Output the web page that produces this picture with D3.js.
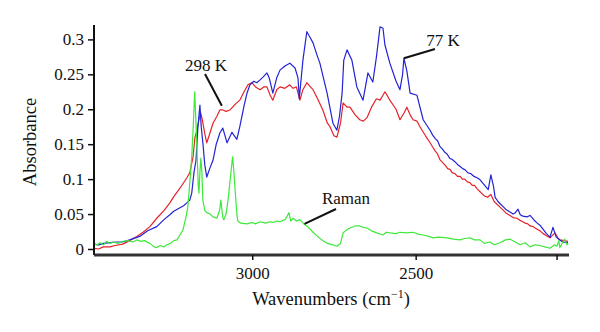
<!DOCTYPE html>
<html><head><meta charset="utf-8">
<script src="https://cdn.jsdelivr.net/npm/d3@7"></script>
<style>
html,body{margin:0;padding:0;background:#fff;}
svg{display:block;}
text{font-family:"Liberation Serif","Times New Roman",serif;fill:#111;}
</style></head>
<body><svg id="c" width="600" height="332"></svg>
<script>
// ---- data: [wavenumber (cm-1), absorbance] ----
const k298 = [[3484,0.001],[3470,0.000],[3455,0.003],[3435,0.003],[3420,0.005],[3396,0.007],[3375,0.012],[3353,0.018],[3334,0.024],[3313,0.032],[3292,0.044],[3270,0.055],[3252,0.066],[3240,0.075],[3221,0.087],[3200,0.102],[3191,0.109],[3181,0.132],[3175,0.160],[3169,0.170],[3163,0.185],[3158,0.195],[3154,0.188],[3145,0.165],[3139,0.152],[3130,0.165],[3120,0.180],[3108,0.190],[3099,0.199],[3090,0.199],[3080,0.197],[3068,0.199],[3050,0.208],[3038,0.213],[3025,0.225],[3013,0.235],[3001,0.238],[2990,0.232],[2976,0.228],[2965,0.232],[2955,0.232],[2945,0.220],[2937,0.213],[2925,0.228],[2915,0.232],[2900,0.230],[2885,0.235],[2875,0.230],[2865,0.232],[2854,0.213],[2845,0.228],[2833,0.238],[2822,0.232],[2814,0.228],[2800,0.215],[2784,0.199],[2770,0.180],[2762,0.175],[2750,0.162],[2741,0.160],[2730,0.180],[2722,0.209],[2710,0.203],[2701,0.203],[2685,0.192],[2671,0.185],[2660,0.183],[2649,0.188],[2635,0.203],[2620,0.215],[2609,0.213],[2600,0.220],[2594,0.225],[2585,0.218],[2579,0.213],[2560,0.200],[2548,0.185],[2535,0.195],[2527,0.203],[2517,0.192],[2508,0.185],[2496,0.183],[2487,0.175],[2470,0.162],[2456,0.152],[2448,0.146],[2440,0.140],[2433,0.136],[2426,0.128],[2418,0.124],[2410,0.120],[2402,0.115],[2395,0.114],[2388,0.109],[2380,0.108],[2372,0.104],[2364,0.104],[2357,0.100],[2350,0.100],[2342,0.096],[2334,0.095],[2327,0.091],[2320,0.091],[2312,0.086],[2303,0.082],[2290,0.076],[2280,0.074],[2270,0.078],[2260,0.068],[2242,0.060],[2233,0.056],[2225,0.052],[2215,0.049],[2202,0.045],[2190,0.044],[2181,0.041],[2172,0.039],[2165,0.037],[2157,0.036],[2150,0.033],[2140,0.032],[2135,0.030],[2127,0.028],[2120,0.026],[2110,0.022],[2100,0.019],[2089,0.016],[2074,0.023],[2065,0.016],[2059,0.013],[2045,0.012],[2034,0.011]];

const k77 = [[3484,0.007],[3470,0.006],[3455,0.008],[3435,0.009],[3415,0.010],[3396,0.010],[3375,0.013],[3344,0.018],[3320,0.026],[3292,0.032],[3270,0.042],[3252,0.049],[3240,0.054],[3221,0.059],[3210,0.062],[3200,0.066],[3191,0.070],[3185,0.080],[3178,0.110],[3172,0.127],[3166,0.175],[3160,0.206],[3156,0.175],[3151,0.152],[3145,0.120],[3139,0.103],[3130,0.115],[3120,0.127],[3110,0.150],[3099,0.166],[3090,0.173],[3077,0.152],[3062,0.167],[3047,0.157],[3038,0.175],[3025,0.205],[3016,0.223],[3007,0.235],[2995,0.240],[2986,0.238],[2976,0.242],[2967,0.246],[2955,0.252],[2948,0.245],[2937,0.223],[2925,0.245],[2915,0.256],[2900,0.262],[2885,0.266],[2869,0.259],[2860,0.245],[2856,0.215],[2845,0.270],[2833,0.311],[2822,0.302],[2814,0.295],[2800,0.275],[2793,0.266],[2771,0.223],[2753,0.180],[2741,0.170],[2733,0.190],[2725,0.223],[2720,0.270],[2710,0.285],[2695,0.270],[2680,0.232],[2661,0.213],[2646,0.252],[2631,0.239],[2620,0.275],[2609,0.318],[2600,0.316],[2594,0.292],[2579,0.266],[2560,0.240],[2548,0.228],[2540,0.250],[2536,0.273],[2527,0.255],[2517,0.223],[2496,0.220],[2477,0.185],[2456,0.170],[2448,0.163],[2440,0.158],[2433,0.155],[2426,0.147],[2418,0.143],[2410,0.138],[2404,0.136],[2396,0.130],[2388,0.128],[2380,0.125],[2372,0.121],[2364,0.118],[2356,0.115],[2348,0.113],[2340,0.109],[2332,0.108],[2322,0.104],[2312,0.102],[2303,0.099],[2285,0.089],[2278,0.085],[2270,0.106],[2262,0.090],[2257,0.074],[2248,0.068],[2240,0.064],[2233,0.061],[2225,0.057],[2215,0.054],[2202,0.050],[2195,0.052],[2187,0.057],[2180,0.049],[2172,0.047],[2160,0.046],[2150,0.048],[2144,0.045],[2135,0.040],[2128,0.037],[2120,0.034],[2110,0.028],[2100,0.022],[2089,0.017],[2080,0.031],[2070,0.017],[2059,0.013],[2050,0.010],[2034,0.009]];

const raman = [[3484,0.007],[3475,0.006],[3465,0.009],[3455,0.006],[3445,0.011],[3435,0.008],[3425,0.010],[3410,0.008],[3396,0.011],[3380,0.012],[3365,0.010],[3353,0.013],[3340,0.011],[3330,0.012],[3313,0.008],[3300,0.003],[3292,0.002],[3282,0.005],[3270,0.003],[3261,0.006],[3250,0.008],[3240,0.012],[3230,0.013],[3221,0.020],[3212,0.027],[3203,0.045],[3197,0.060],[3190,0.100],[3185,0.132],[3180,0.180],[3176,0.225],[3172,0.180],[3169,0.143],[3165,0.090],[3163,0.080],[3160,0.110],[3157,0.130],[3154,0.110],[3151,0.070],[3145,0.055],[3139,0.052],[3129,0.050],[3120,0.046],[3108,0.044],[3100,0.055],[3096,0.070],[3090,0.045],[3087,0.042],[3080,0.050],[3074,0.070],[3065,0.110],[3060,0.132],[3056,0.110],[3053,0.089],[3047,0.050],[3044,0.040],[3035,0.037],[3016,0.036],[3000,0.038],[2990,0.036],[2976,0.039],[2960,0.037],[2946,0.039],[2937,0.038],[2925,0.040],[2915,0.039],[2900,0.042],[2894,0.046],[2888,0.052],[2882,0.040],[2875,0.044],[2865,0.040],[2854,0.042],[2840,0.035],[2830,0.032],[2814,0.024],[2800,0.018],[2784,0.012],[2770,0.008],[2753,0.006],[2741,0.004],[2730,0.008],[2722,0.023],[2710,0.028],[2701,0.030],[2685,0.033],[2671,0.033],[2660,0.031],[2649,0.030],[2635,0.026],[2619,0.023],[2600,0.020],[2590,0.024],[2579,0.023],[2560,0.022],[2548,0.024],[2530,0.023],[2508,0.024],[2490,0.021],[2477,0.020],[2460,0.018],[2447,0.016],[2430,0.017],[2404,0.016],[2385,0.014],[2364,0.013],[2350,0.015],[2334,0.016],[2320,0.013],[2303,0.013],[2290,0.008],[2273,0.010],[2260,0.006],[2242,0.009],[2225,0.013],[2211,0.014],[2195,0.010],[2181,0.006],[2165,0.009],[2150,0.003],[2135,0.006],[2120,0.005],[2105,0.003],[2089,0.001],[2075,0.006],[2068,0.004],[2062,0.012],[2059,0.002],[2050,0.010],[2044,0.014],[2037,0.006],[2034,0.008]];

const xTicks = [3000, 2500, 2069];
const xTickLabels = ["3000", "2500", ""];
const yTicks = [0, 0.05, 0.1, 0.15, 0.2, 0.25, 0.3];
const yTickLabels = ["0", "0.05", "0.1", "0.15", "0.2", "0.25", "0.3"];
const seriesNames = ["298 K", "77 K", "Raman"];
const xDomain = [3484, 2034];
const yDomain = [-0.0086, 0.3206];

// ---- drawing ----
const svg = d3.select("#c");
const x = d3.scaleLinear().domain(xDomain).range([94, 568]);
const y = d3.scaleLinear().domain(yDomain).range([255, 25]);

const line = d3.line().x(d => x(d[0])).y(d => y(d[1]));
const series = [
  {data: k298, color: "#e8222a"},
  {data: k77, color: "#2222d6"},
  {data: raman, color: "#3ee83a"}
];
svg.append("g").selectAll("path").data(series).join("path")
  .attr("d", d => line(d.data))
  .attr("fill", "none")
  .attr("stroke", d => d.color)
  .attr("stroke-width", 1.2)
  .attr("stroke-linejoin", "round");

// y axis
const yAxis = d3.axisLeft(y).tickValues(yTicks)
  .tickFormat((d, i) => yTickLabels[i]).tickSize(6).tickPadding(4);
const gy = svg.append("g").attr("transform", "translate(94,0)").call(yAxis);
gy.select(".domain").attr("d", "M0,25V255").attr("stroke", "#111").attr("stroke-width", 2);
gy.selectAll(".tick line").attr("stroke", "#111").attr("stroke-width", 1.5);
gy.selectAll(".tick text").attr("font-size", 17).attr("font-family", "Liberation Serif").attr("fill", "#111");

// x axis
const xAxis = d3.axisBottom(x).tickValues(xTicks)
  .tickFormat((d, i) => xTickLabels[i]).tickSize(5).tickPadding(7);
const gx = svg.append("g").attr("transform", "translate(0,255)").call(xAxis);
gx.select(".domain").attr("d", "M94,0H569").attr("stroke", "#333").attr("stroke-width", 3);
gx.selectAll(".tick line").attr("stroke", "#111").attr("stroke-width", 1.5);
gx.selectAll(".tick text").attr("font-size", 17).attr("font-family", "Liberation Serif").attr("fill", "#111");

// axis titles
const xt = svg.append("text").attr("x", 331).attr("y", 305).attr("text-anchor", "middle")
  .attr("font-size", 18.5);
xt.append("tspan").text("Wavenumbers (cm");
xt.append("tspan").attr("dy", -7).attr("font-size", 12).text("\u22121");
xt.append("tspan").attr("dy", 7).text(")");

svg.append("text").attr("transform", "translate(36,142) rotate(-90)")
  .attr("text-anchor", "middle").attr("font-size", 18.5).text("Absorbance");

// annotations: leader from a point on the series to the label
const notes = [
  {label: seriesNames[0], pt: [3093, 0.205], lx: 205, ly: 74, tx: 206, ty: 71},
  {label: seriesNames[1], pt: [2536, 0.273], lx: 435, ly: 49, tx: 443, ty: 46},
  {label: seriesNames[2], pt: [2840, 0.036], lx: 336, ly: 209, tx: 346, ty: 204}
];
const ng = svg.append("g");
notes.forEach(n => {
  ng.append("line").attr("x1", x(n.pt[0])).attr("y1", y(n.pt[1]))
    .attr("x2", n.lx).attr("y2", n.ly).attr("stroke", "#111").attr("stroke-width", 2);
  ng.append("text").attr("x", n.tx).attr("y", n.ty).attr("text-anchor", "middle")
    .attr("font-size", 17).text(n.label);
});
</script></body></html>
